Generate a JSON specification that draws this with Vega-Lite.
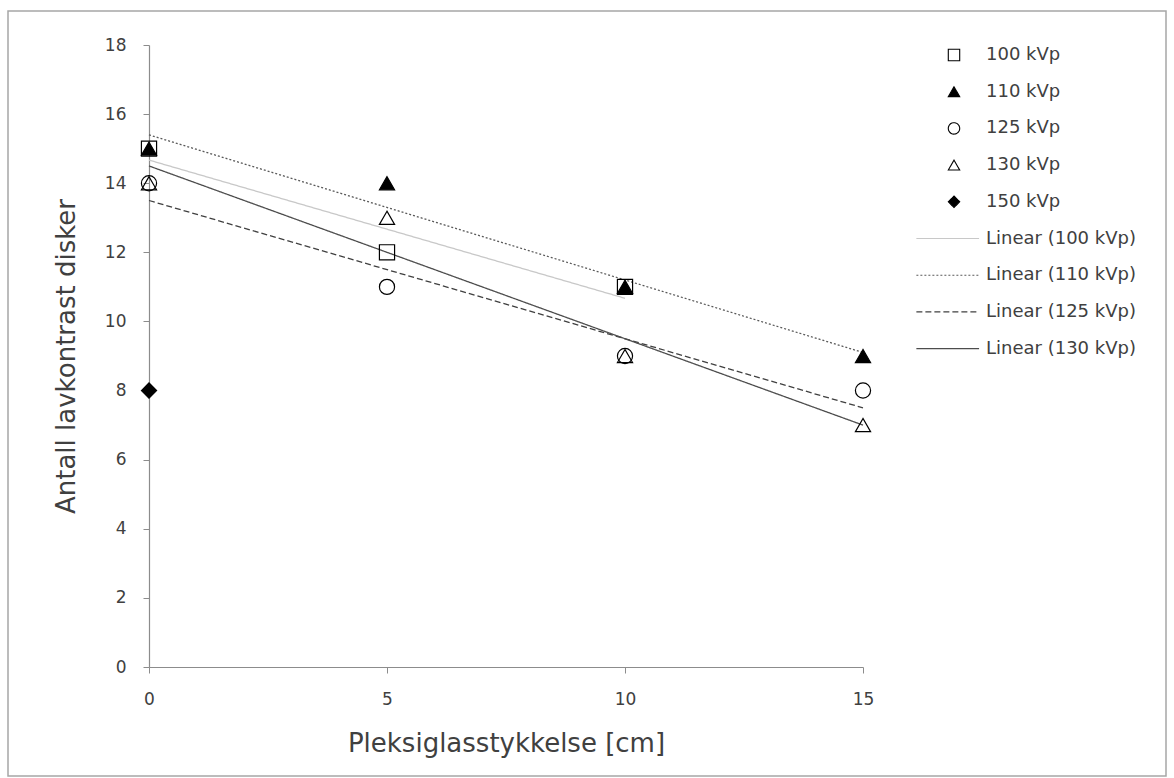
{
  "$schema": "https://vega.github.io/schema/vega-lite/v6.json",
  "width": 1158,
  "height": 765,
  "autosize": {"type": "none"},
  "padding": {"left": 8, "top": 11, "right": 8, "bottom": 2},
  "background": "white",
  "config": {
    "font": "DejaVu Sans",
    "view": {"stroke": "#a6a6a6", "strokeWidth": 1.5},
    "axis": {
      "grid": false,
      "domainColor": "#8c8c8c",
      "tickColor": "#8c8c8c",
      "domainWidth": 1.2,
      "tickWidth": 1,
      "tickSize": 6,
      "labelColor": "#404040",
      "titleColor": "#404040",
      "labelFont": "DejaVu Sans",
      "titleFont": "DejaVu Sans",
      "labelFontSize": 17,
      "titleFontSize": 26,
      "titleFontWeight": "normal",
      "labelFlush": false,
      "labelOverlap": false
    },
    "legend": {
      "symbolFillColor": "transparent",
      "symbolStrokeWidth": 1.1,
      "symbolSize": 130,
      "labelFontSize": 18,
      "labelColor": "#404040",
      "labelFont": "DejaVu Sans",
      "rowPadding": 18.7,
      "labelOffset": 23,
      "padding": 0
    }
  },
  "datasets": {
    "points": [
      {"x": 0, "y": 15, "series": "100 kVp"},
      {"x": 5, "y": 12, "series": "100 kVp"},
      {"x": 10, "y": 11, "series": "100 kVp"},
      {"x": 0, "y": 15, "series": "110 kVp"},
      {"x": 5, "y": 14, "series": "110 kVp"},
      {"x": 10, "y": 11, "series": "110 kVp"},
      {"x": 15, "y": 9, "series": "110 kVp"},
      {"x": 0, "y": 14, "series": "125 kVp"},
      {"x": 5, "y": 11, "series": "125 kVp"},
      {"x": 10, "y": 9, "series": "125 kVp"},
      {"x": 15, "y": 8, "series": "125 kVp"},
      {"x": 0, "y": 14, "series": "130 kVp"},
      {"x": 5, "y": 13, "series": "130 kVp"},
      {"x": 10, "y": 9, "series": "130 kVp"},
      {"x": 15, "y": 7, "series": "130 kVp"},
      {"x": 0, "y": 8, "series": "150 kVp"}
    ],
    "trends": [
      {"x": 0, "y": 14.67, "series": "Linear (100 kVp)"},
      {"x": 10, "y": 10.67, "series": "Linear (100 kVp)"},
      {"x": 0, "y": 15.4, "series": "Linear (110 kVp)"},
      {"x": 15, "y": 9.1, "series": "Linear (110 kVp)"},
      {"x": 0, "y": 13.5, "series": "Linear (125 kVp)"},
      {"x": 15, "y": 7.5, "series": "Linear (125 kVp)"},
      {"x": 0, "y": 14.5, "series": "Linear (130 kVp)"},
      {"x": 15, "y": 7.0, "series": "Linear (130 kVp)"}
    ]
  },
  "encoding": {
    "x": {
      "field": "x",
      "type": "quantitative",
      "scale": {"domain": [0, 15], "range": [141, 855], "nice": false, "zero": false},
      "axis": {"values": [0, 5, 10, 15], "title": "Pleksiglasstykkelse [cm]", "offset": -109, "labelPadding": 18, "titlePadding": 23}
    },
    "y": {
      "field": "y",
      "type": "quantitative",
      "scale": {"domain": [0, 18], "range": [656, 34], "nice": false, "zero": false},
      "axis": {"values": [0, 2, 4, 6, 8, 10, 12, 14, 16, 18], "title": "Antall lavkontrast disker", "offset": -141, "labelPadding": 17, "titlePadding": 25}
    }
  },
  "layer": [
    {
      "data": {"name": "trends"},
      "mark": {"type": "line", "strokeWidth": 1.3},
      "encoding": {
        "stroke": {
          "field": "series",
          "type": "nominal",
          "scale": {
            "domain": ["100 kVp", "110 kVp", "125 kVp", "130 kVp", "150 kVp", "Linear (100 kVp)", "Linear (110 kVp)", "Linear (125 kVp)", "Linear (130 kVp)"],
            "range": ["black", "black", "black", "black", "black", "#c8c8c8", "#595959", "#404040", "#4d4d4d"]
          },
          "legend": {"title": null, "orient": "none", "legendX": 937, "legendY": 35}
        },
        "strokeDash": {
          "field": "series",
          "type": "nominal",
          "scale": {
            "domain": ["100 kVp", "110 kVp", "125 kVp", "130 kVp", "150 kVp", "Linear (100 kVp)", "Linear (110 kVp)", "Linear (125 kVp)", "Linear (130 kVp)"],
            "range": [[1, 0], [1, 0], [1, 0], [1, 0], [1, 0], [1, 0], [2, 2], [6, 3], [1, 0]]
          },
          "legend": {"title": null, "orient": "none", "legendX": 937, "legendY": 35}
        }
      }
    },
    {
      "data": {"name": "points"},
      "mark": {"type": "point", "opacity": 1, "size": 230, "strokeWidth": 1.2},
      "encoding": {
        "shape": {
          "field": "series",
          "type": "nominal",
          "scale": {
            "domain": ["100 kVp", "110 kVp", "125 kVp", "130 kVp", "150 kVp", "Linear (100 kVp)", "Linear (110 kVp)", "Linear (125 kVp)", "Linear (130 kVp)"],
            "range": ["square", "triangle-up", "circle", "triangle-up", "diamond", "M-6.6,0H4.4", "M-6.6,0H4.4", "M-6.6,0H4.4", "M-6.6,0H4.4"]
          },
          "legend": {"title": null, "orient": "none", "legendX": 937, "legendY": 35}
        },
        "fill": {
          "field": "series",
          "type": "nominal",
          "scale": {
            "domain": ["100 kVp", "110 kVp", "125 kVp", "130 kVp", "150 kVp", "Linear (100 kVp)", "Linear (110 kVp)", "Linear (125 kVp)", "Linear (130 kVp)"],
            "range": ["transparent", "black", "transparent", "transparent", "black", "transparent", "transparent", "transparent", "transparent"]
          },
          "legend": {"title": null, "orient": "none", "legendX": 937, "legendY": 35}
        },
        "stroke": {
          "field": "series",
          "type": "nominal",
          "scale": {
            "domain": ["100 kVp", "110 kVp", "125 kVp", "130 kVp", "150 kVp", "Linear (100 kVp)", "Linear (110 kVp)", "Linear (125 kVp)", "Linear (130 kVp)"],
            "range": ["black", "black", "black", "black", "black", "#c8c8c8", "#595959", "#404040", "#4d4d4d"]
          },
          "legend": {"title": null, "orient": "none", "legendX": 937, "legendY": 35}
        }
      }
    }
  ]
}
